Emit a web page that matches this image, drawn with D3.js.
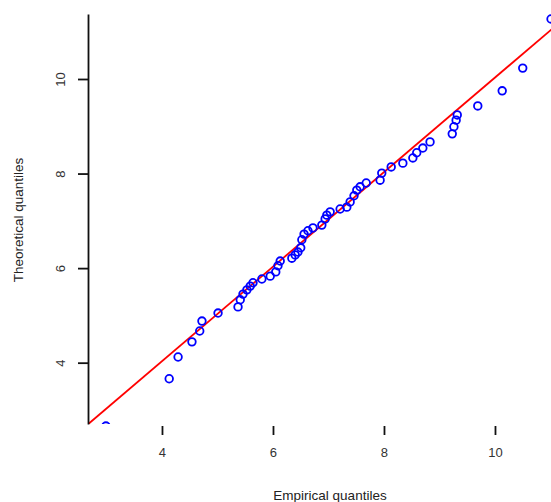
<!DOCTYPE html>
<html lang="en">
<head>
<meta charset="UTF-8">
<title>QQ plot</title>
<style>
  body { margin: 0; background: #fff; }
  text { font-family: "Liberation Sans", Arial, sans-serif; }
</style>
</head>
<body>
<script src="https://d3js.org/d3.v7.min.js"></script>
<script>
// empirical (x) and theoretical (y) quantiles
var empirical = [2.99, 4.13, 4.29, 4.54, 4.68, 4.72, 5.01, 5.37, 5.41, 5.46,
                 5.53, 5.59, 5.64, 5.80, 5.95, 6.05, 6.09, 6.13, 6.34, 6.40,
                 6.45, 6.50, 6.52, 6.56, 6.63, 6.72, 6.88, 6.94, 6.97, 7.03,
                 7.21, 7.33, 7.39, 7.46, 7.51, 7.57, 7.68, 7.93, 7.96, 8.13,
                 8.34, 8.52, 8.59, 8.70, 8.83, 9.23, 9.26, 9.30, 9.32, 9.69,
                 10.13, 10.50, 11.01];
var theoretical = [2.66, 3.66, 4.12, 4.44, 4.67, 4.88, 5.05, 5.18, 5.33, 5.45,
                   5.54, 5.62, 5.69, 5.77, 5.83, 5.92, 6.05, 6.15, 6.21, 6.28,
                   6.34, 6.43, 6.60, 6.72, 6.79, 6.85, 6.91, 7.04, 7.12, 7.19,
                   7.25, 7.29, 7.40, 7.53, 7.65, 7.72, 7.80, 7.86, 8.01, 8.14,
                   8.22, 8.33, 8.44, 8.54, 8.67, 8.84, 8.99, 9.13, 9.24, 9.43,
                   9.75, 10.23, 11.27];
var xTicks = [4, 6, 8, 10];
var yTicks = [4, 6, 8, 10];
var lineCoef = [0.03, 1.0]; // intercept, slope

var width = 551, height = 502;
var padLeft = 88, padTop = 14, padBottom = 424;
var pxPerX = 55.5, pxPerY = 47.28;
var xMin = 2.667, xMax = 11.4, yMin = 2.703;
var yMax = yMin + (padBottom - padTop) / pxPerY;

var x = d3.scaleLinear().domain([xMin, xMax]).range([padLeft, padLeft + (xMax - xMin) * pxPerX]);
var y = d3.scaleLinear().domain([yMin, yMax]).range([padBottom, padTop]);

var svg = d3.select('body').append('svg')
    .attr('width', width).attr('height', height);

svg.append('clipPath').attr('id', 'plotclip')
  .append('rect')
    .attr('x', padLeft).attr('y', 0)
    .attr('width', width).attr('height', padBottom);

var plot = svg.append('g').attr('clip-path', 'url(#plotclip)');

// reference line
plot.append('line')
    .attr('x1', x(xMin)).attr('y1', y(lineCoef[0] + lineCoef[1] * xMin))
    .attr('x2', x(xMax)).attr('y2', y(lineCoef[0] + lineCoef[1] * xMax))
    .attr('stroke', '#ff0000').attr('stroke-width', 1.8);

plot.selectAll('circle')
    .data(empirical)
    .enter()
    .append('circle')
    .attr('cx', function(d) { return x(d); })
    .attr('cy', function(d, i) { return y(theoretical[i]); })
    .attr('r', 3.8)
    .attr('fill', 'none')
    .attr('stroke', '#0000ff')
    .attr('stroke-width', 1.8);

// y axis
var yAxis = svg.append('g')
    .attr('transform', 'translate(' + padLeft + ',0)')
    .call(d3.axisLeft(y).tickValues(yTicks).tickSize(10).tickSizeOuter(0));
yAxis.select('.domain').attr('stroke', '#111').attr('stroke-width', 1.8);
yAxis.selectAll('.tick line').attr('stroke', '#111').attr('stroke-width', 1.8);
yAxis.selectAll('.tick text')
    .attr('transform', 'rotate(-90)')
    .attr('text-anchor', 'middle')
    .attr('x', 0).attr('y', -23).attr('dy', 0)
    .attr('font-size', 13).attr('fill', '#333');

// x axis (ticks only)
var xAxis = svg.append('g')
    .attr('transform', 'translate(0,' + (padBottom + 2) + ')')
    .call(d3.axisBottom(x).tickValues(xTicks).tickSize(9));
xAxis.select('.domain').remove();
xAxis.selectAll('.tick line').attr('stroke', '#111').attr('stroke-width', 1.8);
xAxis.selectAll('.tick text')
    .attr('y', 31).attr('dy', 0)
    .attr('font-size', 13).attr('fill', '#333');

svg.append('text')
    .attr('x', 330).attr('y', 500)
    .attr('text-anchor', 'middle')
    .attr('font-size', 13.5).attr('fill', '#222')
    .text('Empirical quantiles');

svg.append('text')
    .attr('transform', 'translate(23,220) rotate(-90)')
    .attr('text-anchor', 'middle')
    .attr('font-size', 13.5).attr('fill', '#222')
    .text('Theoretical quantiles');
</script>
</body>
</html>
